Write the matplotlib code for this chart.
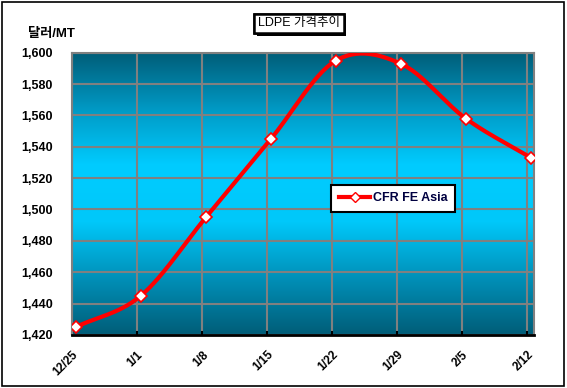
import numpy as np
import matplotlib.pyplot as plt
import matplotlib.patheffects as pe
from matplotlib.colors import LinearSegmentedColormap
from matplotlib.patches import Rectangle

plt.rcParams['font.family'] = ['Liberation Sans', 'Noto Sans CJK KR']

dates = ['12/25', '1/1', '1/8', '1/15', '1/22', '1/29', '2/5', '2/12']
prices = [1425, 1445, 1495, 1545, 1595, 1593, 1558, 1533]
series_name = 'CFR FE Asia'
yticks = list(range(1420, 1601, 20))


def catmull_rom(x, y, n=30):
    # smoothed line like excel's
    px = np.concatenate([[2 * x[0] - x[1]], x, [2 * x[-1] - x[-2]]])
    py = np.concatenate([[2 * y[0] - y[1]], y, [2 * y[-1] - y[-2]]])
    ox, oy = [], []
    for i in range(1, len(px) - 2):
        t = np.linspace(0, 1, n)
        for p, out in ((px, ox), (py, oy)):
            p0, p1, p2, p3 = p[i - 1], p[i], p[i + 1], p[i + 2]
            out.extend(0.5 * ((2 * p1) + (-p0 + p2) * t
                              + (2 * p0 - 5 * p1 + 4 * p2 - p3) * t ** 2
                              + (-p0 + 3 * p1 - 3 * p2 + p3) * t ** 3))
    return np.array(ox), np.array(oy)


fig = plt.figure(figsize=(5.67, 3.88), dpi=100)
fig.patches.append(Rectangle((0.004, 0.005), 0.99, 0.99, transform=fig.transFigure,
                             fill=False, edgecolor='black', linewidth=1.2))
ax = fig.add_axes([0.127, 0.137, 0.815, 0.727])

x = np.arange(len(dates), dtype=float)
off = 0.06
ax.set_xlim(-off, x[-1] + 0.05)
ax.set_ylim(yticks[0], yticks[-1])

cmap = LinearSegmentedColormap.from_list('bg', ['#005d78', '#0099c4', '#00ccff', '#00c8fa', '#0090b8', '#005d78'])
grad = np.linspace(0, 1, 256).reshape(-1, 1)
ax.imshow(grad, cmap=cmap, aspect='auto', extent=[-off, x[-1] + 0.05, yticks[0], yticks[-1]],
          origin='upper', zorder=0)

for yv in yticks:
    ax.axhline(yv, color='#808080', linewidth=1.5, zorder=1)
for xv in x:
    ax.axvline(xv - off, color='#808080', linewidth=1.5, zorder=1)

sx, sy = catmull_rom(x, np.array(prices, dtype=float))
ax.plot(sx, sy, color='red', linewidth=3, zorder=3, solid_capstyle='round')
ax.plot(x, prices, linestyle='none', marker='D', markersize=6, markerfacecolor='white',
        markeredgecolor='red', markeredgewidth=1.2, zorder=4)
ax.plot([], [], color='red', linewidth=3, marker='D', markersize=5,
        markerfacecolor='white', markeredgecolor='red', label=series_name)

ax.set_xticks(x - off)
ax.set_xticklabels(dates, rotation=45, ha='right', va='top', rotation_mode='anchor',
                   fontsize=8.5, fontweight='bold')
ax.set_yticks(yticks)
ax.set_yticklabels([f'{v:,}' for v in yticks], fontsize=9, fontweight='bold')
ax.tick_params(axis='y', length=0, pad=14)
ax.tick_params(axis='x', length=3, width=1.5, direction='in', pad=10)
for s in ['top', 'left', 'right']:
    ax.spines[s].set_color('#808080')
    ax.spines[s].set_linewidth(1.5)
ax.spines['bottom'].set_color('black')
ax.spines['bottom'].set_linewidth(2)

leg = ax.legend(loc='upper left', bbox_to_anchor=(0.548, 0.555), frameon=True, fancybox=False,
                framealpha=1, fontsize=9, handlelength=2.5, borderpad=0.6, handletextpad=0.2)
leg.get_frame().set_edgecolor('black')
leg.get_frame().set_facecolor('white')
leg.get_frame().set_linewidth(1.5)
for t in leg.get_texts():
    t.set_fontweight('bold')
    t.set_color('#000040')

title = fig.text(0.527, 0.94, 'LDPE 가격추이', ha='center', va='center', fontsize=9,
                 bbox=dict(boxstyle='square,pad=0.3', facecolor='white', edgecolor='black', linewidth=1.8))
title.get_bbox_patch().set_path_effects([pe.withSimplePatchShadow(offset=(2, -2), shadow_rgbFace='black', alpha=1),
                                         pe.Normal()])
fig.text(0.05, 0.912, '달러/MT', ha='left', va='center', fontsize=9.5, fontweight='bold')

fig.savefig('out.png', dpi=100)
